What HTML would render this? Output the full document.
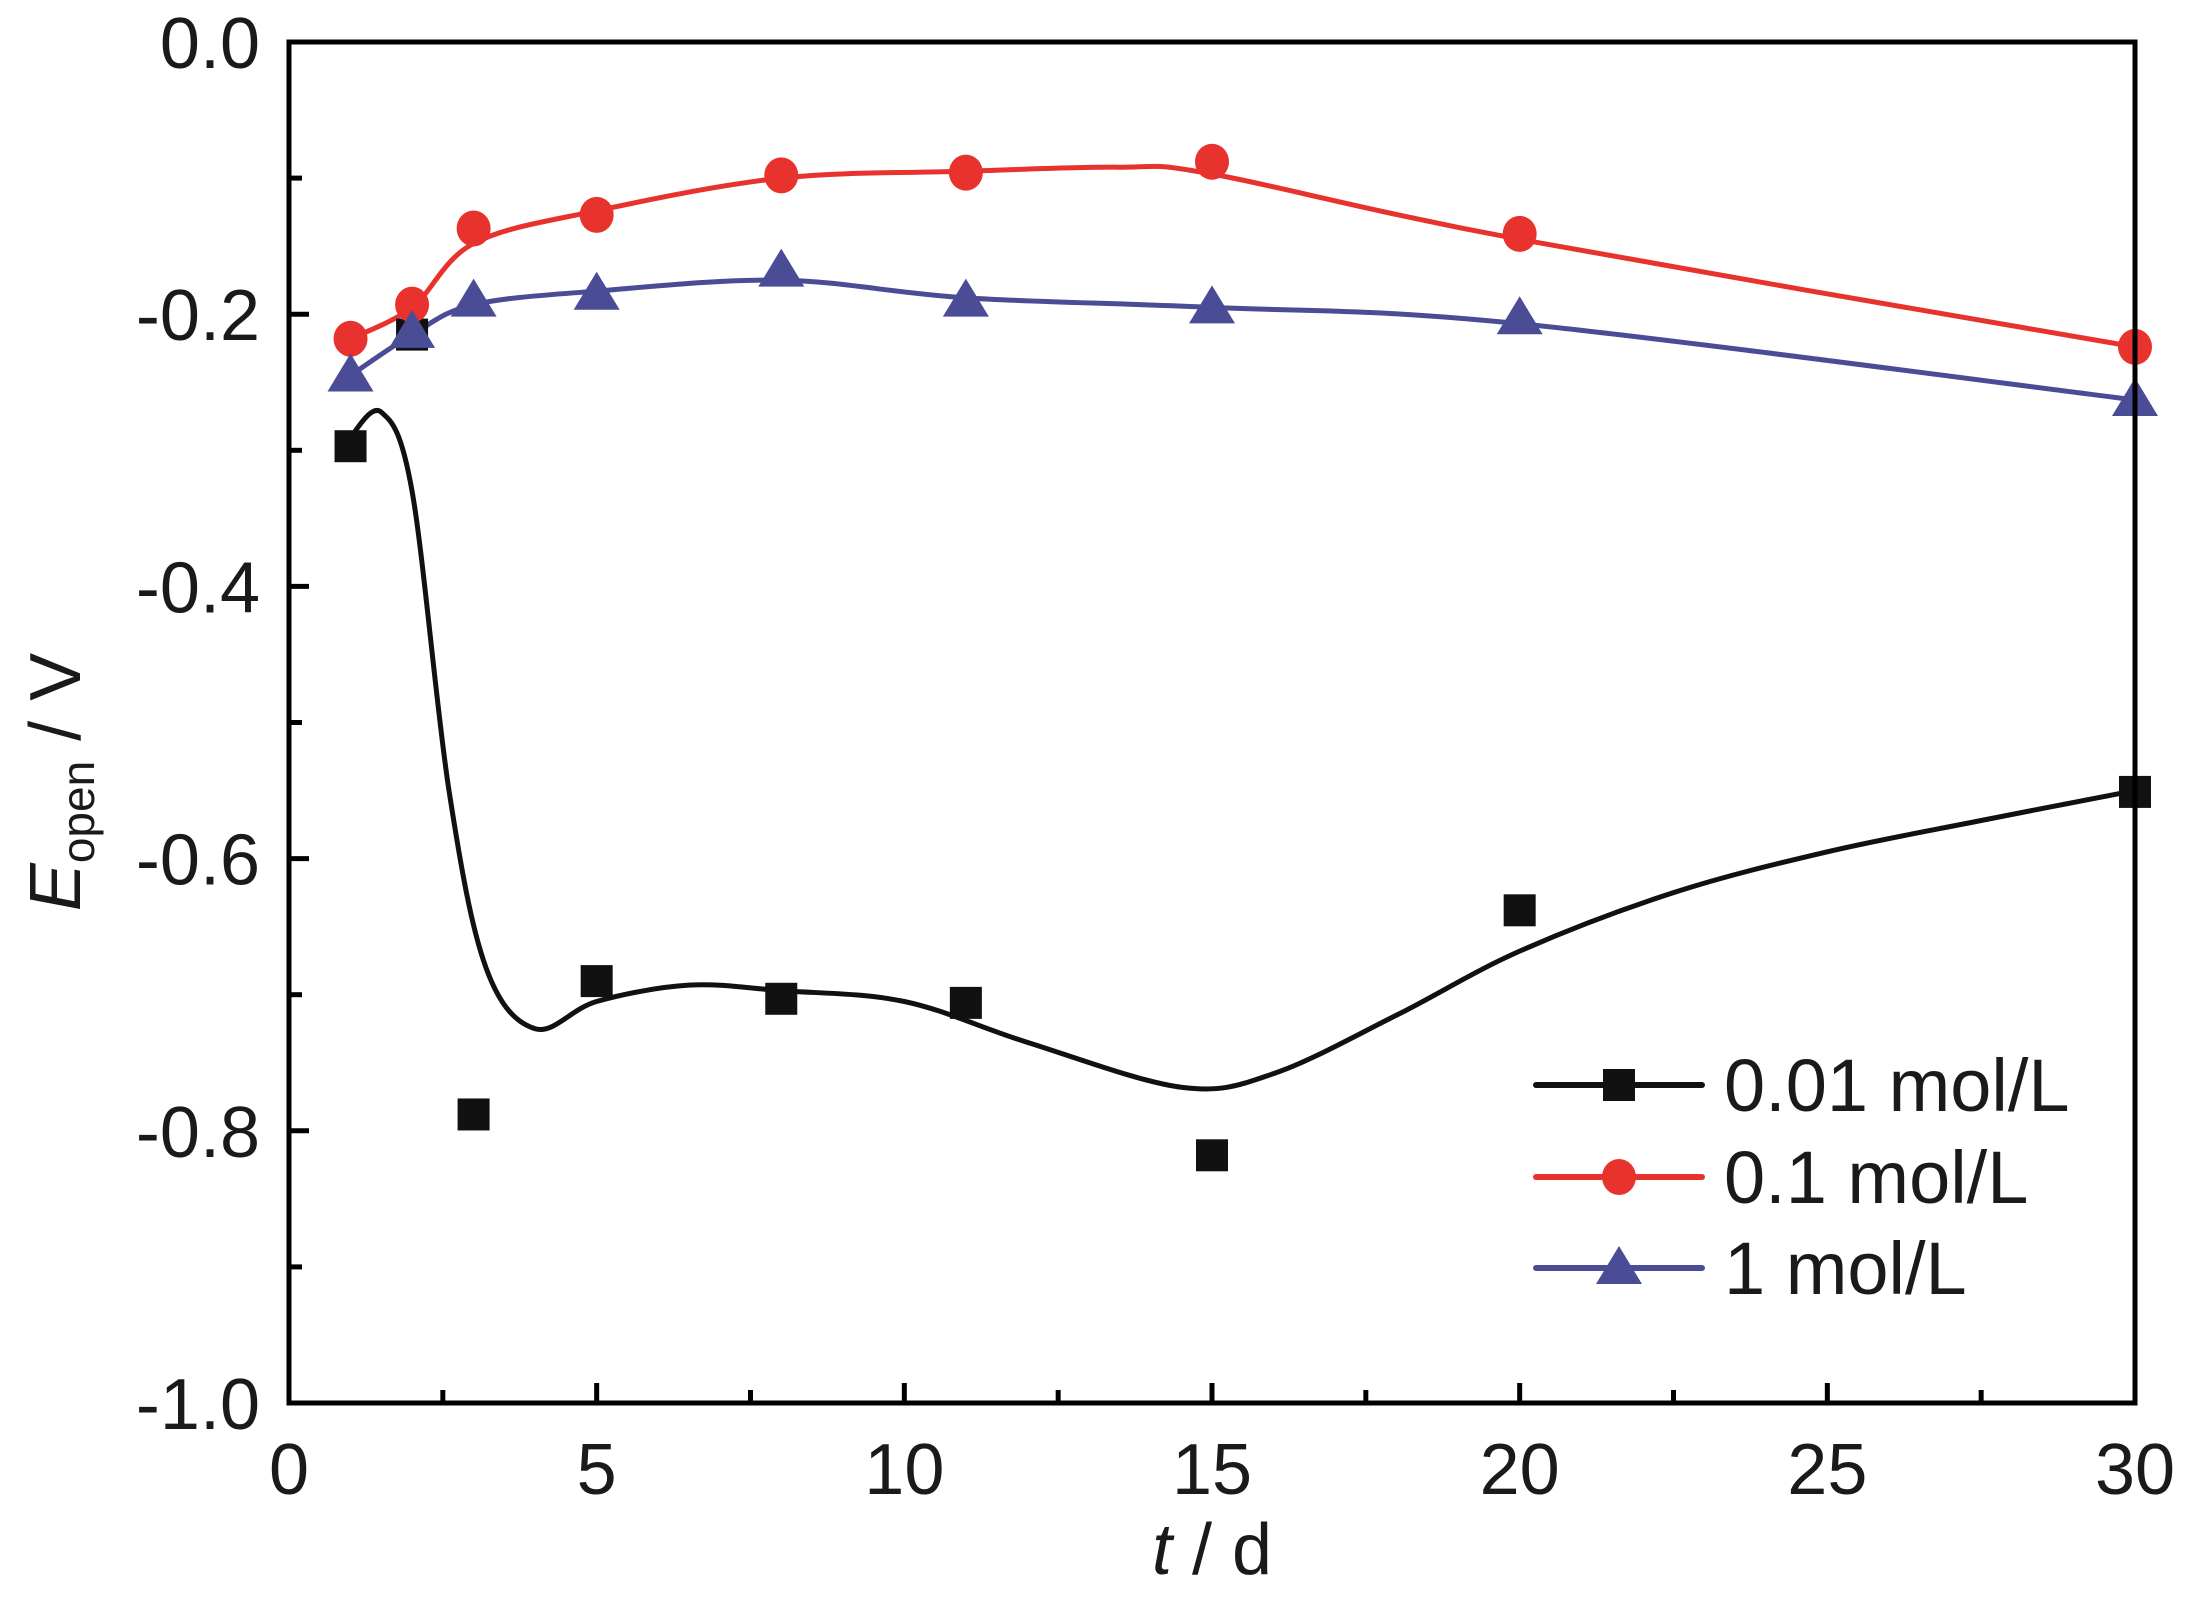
<!DOCTYPE html>
<html><head><meta charset="utf-8"><style>
html,body{margin:0;padding:0;background:#fff;}
svg{display:block;font-family:"Liberation Sans",Arial,sans-serif;}
</style></head><body>
<svg id="s" width="2185" height="1599" viewBox="0 0 2185 1599" xmlns="http://www.w3.org/2000/svg">
<rect width="2185" height="1599" fill="#fff"/>
<g id="plot"></g>
<rect x="289" y="42" width="1846" height="1361" fill="none" stroke="#000" stroke-width="5"/>
<g id="ticks" stroke="#000" stroke-width="5"></g>
<g font-size="72" fill="#1a1a1a" id="labels"></g>
<text x="1212" y="1574" font-size="72" text-anchor="middle" fill="#1a1a1a"><tspan font-style="italic">t</tspan> / d</text>
<g transform="translate(80,782) rotate(-90)">
<text x="0" y="0" font-size="72" text-anchor="middle" fill="#1a1a1a"><tspan font-style="italic">E</tspan><tspan font-size="46" dy="14">open</tspan><tspan dy="-14"> / V</tspan></text>
</g>
<g id="legend"></g>
</svg>
<script>
const NS="http://www.w3.org/2000/svg";
const X=x=>289+x*1846/30, Y=y=>42-y*1361;
function el(p,t,a,txt){const e=document.createElementNS(NS,t);for(const k in a)e.setAttribute(k,a[k]);if(txt!==undefined)e.textContent=txt;document.getElementById(p).appendChild(e);return e;}
for(let i=0;i<=12;i++){const x=X(i*2.5);const L=i%2==0?20:13;if(i>0&&i<12)el('ticks','line',{x1:x,y1:1403,x2:x,y2:1403-L});}
for(let i=0;i<=10;i++){const y=Y(-i*0.1);const L=i%2==0?20:13;if(i>0&&i<10)el('ticks','line',{x1:289,y1:y,x2:289+L,y2:y});}
for(let i=0;i<=6;i++)el('labels','text',{x:X(i*5),y:1494,'text-anchor':'middle'},String(i*5));
for(let i=0;i<=5;i++)el('labels','text',{x:260,y:Y(-i*0.2)+26,'text-anchor':'end'},(i==0?'0.0':'-'+(i*0.2).toFixed(1)));
function spline(pts){let d='M'+X(pts[0][0])+','+Y(pts[0][1]);const P=pts.map(p=>[X(p[0]),Y(p[1])]);
for(let i=0;i<P.length-1;i++){const p0=P[Math.max(0,i-1)],p1=P[i],p2=P[i+1],p3=P[Math.min(P.length-1,i+2)];
d+=` C${p1[0]+(p2[0]-p0[0])/6},${p1[1]+(p2[1]-p0[1])/6} ${p2[0]-(p3[0]-p1[0])/6},${p2[1]-(p3[1]-p1[1])/6} ${p2[0]},${p2[1]}`;}return d;}
const blackC=[[1,-0.29],[1.5,-0.272],[2,-0.33],[2.6,-0.55],[3.2,-0.68],[4,-0.725],[5,-0.705],[6.5,-0.693],[8,-0.697],[10,-0.705],[12,-0.735],[14.5,-0.768],[16,-0.758],[18,-0.715],[20,-0.668],[22.5,-0.625],[25,-0.595],[27.5,-0.572],[30,-0.55]];
const red=[[1,-0.218],[2,-0.193],[3,-0.137],[5,-0.127],[8,-0.098],[11,-0.096],[15,-0.088],[20,-0.141],[30,-0.224]];
const redC=[[1,-0.218],[2,-0.195],[3,-0.148],[5,-0.124],[8,-0.1],[11,-0.095],[13.5,-0.092],[15,-0.097],[20,-0.145],[30,-0.224]];
const blue=[[1,-0.245],[2,-0.213],[3,-0.19],[5,-0.185],[8,-0.168],[11,-0.19],[15,-0.195],[20,-0.203],[30,-0.263]];
const blueC=[[1,-0.245],[2,-0.215],[3,-0.193],[5,-0.183],[8,-0.175],[11,-0.188],[15,-0.195],[20,-0.207],[30,-0.263]];
const blk=[[1,-0.297],[2,-0.215],[3,-0.788],[5,-0.69],[8,-0.703],[11,-0.706],[15,-0.818],[20,-0.638],[30,-0.551]];
el('plot','path',{d:spline(blackC),fill:'none',stroke:'#111',"stroke-width":5});
el('plot','path',{d:spline(redC),fill:'none',stroke:'#e8322e',"stroke-width":5});
el('plot','path',{d:spline(blueC),fill:'none',stroke:'#4b4c96',"stroke-width":5});
function sq(p,x,y){el(p,'rect',{x:x-16,y:y-16,width:32,height:32,fill:'#111'});}
function ci(p,x,y){el(p,'ellipse',{cx:x,cy:y,rx:17,ry:18,fill:'#e8322e'});}
function tr(p,x,y){el(p,'polygon',{points:`${x},${y-22} ${x-23},${y+16} ${x+23},${y+16}`,fill:'#4b4c96'});}
blk.forEach(p=>sq('plot',X(p[0]),Y(p[1])));
red.forEach(p=>ci('plot',X(p[0]),Y(p[1])));
blue.forEach(p=>tr('plot',X(p[0]),Y(p[1])));
const lg=[['#111',sq,'0.01 mol/L',1085],['#e8322e',ci,'0.1 mol/L',1177],['#4b4c96',tr,'1 mol/L',1268]];
lg.forEach(l=>{el('legend','line',{x1:1536,y1:l[3],x2:1702,y2:l[3],stroke:l[0],"stroke-width":6,"stroke-linecap":"round"});l[1]('legend',1619,l[3]);
el('legend','text',{x:1724,y:l[3]+26,"font-size":74,fill:'#1a1a1a'},l[2]);});
</script>
</body></html>
